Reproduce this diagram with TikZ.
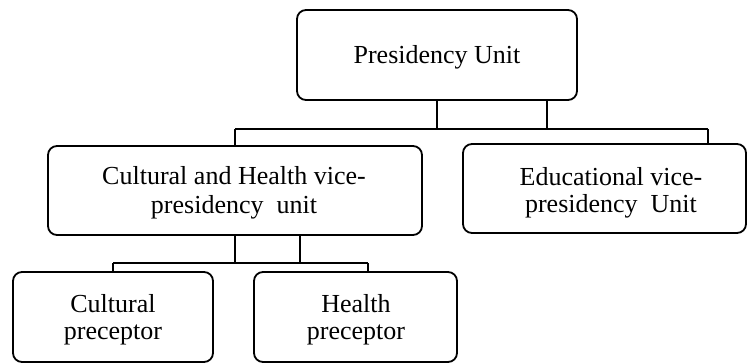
\documentclass[tikz,border=0pt]{standalone}
\usepackage{fontspec}
\setmainfont{Liberation Serif}
\begin{document}
\begin{tikzpicture}[x=1pt,y=-1pt,
  box/.style={draw, line width=1.8pt, rounded corners=9pt, inner sep=0pt},
  lbl/.style={font=\fontsize{26}{31}\selectfont, inner sep=0pt, anchor=base},
  conn/.style={line width=1.8pt}]
\useasboundingbox (0,0) rectangle (751,363);
% boxes
\node[box, minimum width=280pt, minimum height=90pt] (top) at (437,55) {};
\node[box, minimum width=374pt, minimum height=89pt] (left) at (235,190.5) {};
\node[box, minimum width=283pt, minimum height=89pt] (right) at (604.5,188.5) {};
\node[box, minimum width=200pt, minimum height=90pt] (bl) at (113,317) {};
\node[box, minimum width=203pt, minimum height=90pt] (br) at (355.5,317) {};
% texts
\node[lbl] (ttop) at (437,64) {Presidency Unit};
\node[lbl] (tleft1) at (234,185) {Cultural and Health vice-};
\node[lbl] (tleft2) at (234,214) {presidency\ \ unit};
\node[lbl] (tright1) at (611,186) {Educational vice-};
\node[lbl] (tright2) at (611,213) {presidency\ \ Unit};
\node[lbl] (tbl1) at (113,312) {Cultural};
\node[lbl] (tbl2) at (113,339) {preceptor};
\node[lbl] (tbr1) at (356,312) {Health};
\node[lbl] (tbr2) at (356,339) {preceptor};
% connector coordinates
\coordinate (h1l) at (235,129);
\coordinate (h1r) at (708,129);
\coordinate (h1a) at (437,129);
\coordinate (h1b) at (547,129);
\coordinate (h2l) at (113,263);
\coordinate (h2r) at (368,263);
\coordinate (h2a) at (235,263);
\coordinate (h2b) at (300,263);
% top connectors
\draw[conn] (top.south) -- (h1a);
\draw[conn] (top.south -| h1b) -- (h1b);
\draw[conn] (h1l) -- (h1r);
\draw[conn] (h1l) -- (h1l |- left.north);
\draw[conn] (h1r) -- (h1r |- right.north);
% lower connectors
\draw[conn] (left.south -| h2a) -- (h2a);
\draw[conn] (left.south -| h2b) -- (h2b);
\draw[conn] (h2l) -- (h2r);
\draw[conn] (h2l) -- (h2l |- bl.north);
\draw[conn] (h2r) -- (h2r |- br.north);
\end{tikzpicture}
\end{document}
